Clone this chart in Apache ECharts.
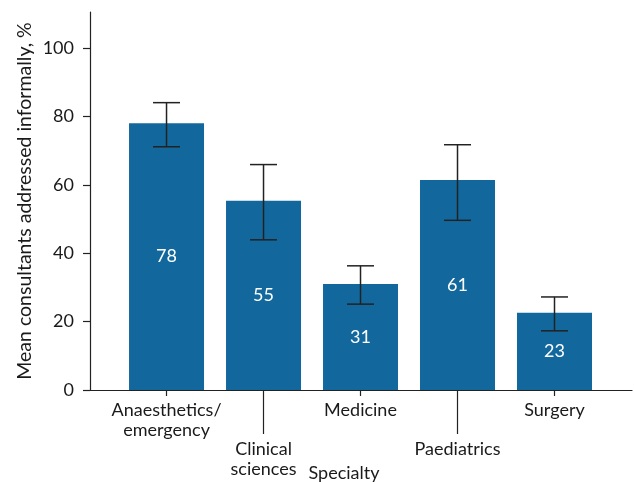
<!DOCTYPE html>
<html>
<head>
<meta charset="utf-8">
<script src="https://cdn.jsdelivr.net/npm/echarts@6/dist/echarts.min.js"></script>
<style>
html,body{margin:0;padding:0;background:#fff;}
#chart{width:634px;height:482px;}
</style>
</head>
<body>
<div id="chart"></div>
<script>
// Data
var categories = ['Anaesthetics/\nemergency', 'Clinical\nsciences', 'Medicine', 'Paediatrics', 'Surgery'];
var means = [78, 55.3, 31, 61.4, 22.6];
var errLow = [71.1, 43.9, 25.1, 49.6, 17.3];
var errHigh = [84.0, 65.9, 36.3, 71.7, 27.2];
var yTicks = [0, 20, 40, 60, 80, 100];
var catIdx = [0, 1, 2, 3, 4];

var FONT = 'Lato';
var TEXT = '#1a1a1a';
var AXIS = '#222';

var barData = means.map(function (v, i) { return [i, v]; });
var errData = catIdx.map(function (i) { return [i, errLow[i], errHigh[i]]; });

var xMin = -0.789, xMax = 4.799;

var chart = echarts.init(document.getElementById('chart'));
chart.setOption({
  animation: false,
  textStyle: { fontFamily: FONT },
  grid: { left: 90, right: 2, top: 12, bottom: 92 },
  xAxis: [{
    type: 'value', min: xMin, max: xMax,
    splitLine: { show: false },
    axisLine: { show: true, onZero: false, lineStyle: { color: AXIS, width: 1.2 } },
    axisTick: { show: true, length: 6, customValues: [0, 2, 4], lineStyle: { color: AXIS, width: 1.2 } },
    axisLabel: {
      customValues: [0, 2, 4], margin: 10, fontSize: 18, lineHeight: 20, color: TEXT, fontFamily: FONT,
      formatter: function (v) { return categories[Math.round(v)]; }
    }
  }, {
    type: 'value', min: xMin, max: xMax, position: 'bottom',
    splitLine: { show: false },
    axisLine: { show: false, onZero: false },
    axisTick: { show: true, length: 44, customValues: [1, 3], lineStyle: { color: AXIS, width: 1.2 } },
    axisLabel: {
      customValues: [1, 3], margin: 49, fontSize: 18, lineHeight: 20, color: TEXT, fontFamily: FONT,
      formatter: function (v) { return categories[Math.round(v)]; }
    }
  }],
  yAxis: {
    type: 'value', min: 0, max: 110.5,
    name: 'Mean consultants addressed informally, %',
    nameLocation: 'middle', nameGap: 55, nameMoveOverlap: false,
    nameTextStyle: { fontSize: 19.5, color: TEXT, fontFamily: FONT },
    splitLine: { show: false },
    axisLine: { show: true, onZero: false, lineStyle: { color: AXIS, width: 1.2 } },
    axisTick: { show: true, length: 7, customValues: yTicks, lineStyle: { color: AXIS, width: 1.2 } },
    axisLabel: { customValues: yTicks, margin: 16, fontSize: 18, color: TEXT, fontFamily: FONT }
  },
  graphic: [{
    type: 'text', x: 344, y: 473,
    style: { text: 'Specialty', fontSize: 18, fill: TEXT, fontFamily: FONT, align: 'center', verticalAlign: 'middle' }
  }],
  series: [{
    type: 'bar',
    data: barData,
    barWidth: 75,
    itemStyle: { color: '#12689d' },
    label: {
      show: true, position: 'inside', color: '#fff', fontSize: 18, fontFamily: FONT,
      formatter: function (p) { return Math.round(p.value[1]); }
    }
  }, {
    type: 'custom',
    data: errData,
    z: 10,
    renderItem: function (params, api) {
      var x = api.value(0);
      var lo = api.coord([x, api.value(1)]);
      var hi = api.coord([x, api.value(2)]);
      var hw = 13.5;
      var st = { stroke: '#222', lineWidth: 1.5 };
      return {
        type: 'group',
        children: [
          { type: 'line', shape: { x1: hi[0], y1: hi[1], x2: lo[0], y2: lo[1] }, style: st },
          { type: 'line', shape: { x1: hi[0] - hw, y1: hi[1], x2: hi[0] + hw, y2: hi[1] }, style: st },
          { type: 'line', shape: { x1: lo[0] - hw, y1: lo[1], x2: lo[0] + hw, y2: lo[1] }, style: st }
        ]
      };
    }
  }]
});
</script>
</body>
</html>
